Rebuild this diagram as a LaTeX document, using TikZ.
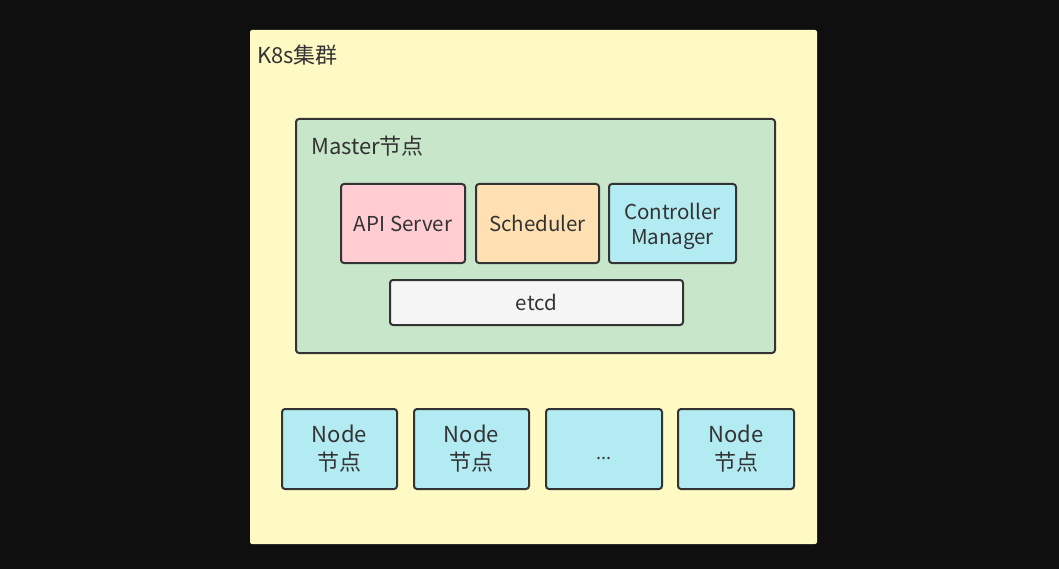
\documentclass[tikz,border=0pt]{standalone}
\usepackage{fontspec}
\setmainfont{Noto Sans CJK SC}
\definecolor{bgdark}{HTML}{0F0F0F}
\definecolor{clusterbg}{HTML}{FFF9C4}
\definecolor{masterbg}{HTML}{C8E6C9}
\definecolor{apibg}{HTML}{FFCDD2}
\definecolor{schedbg}{HTML}{FFE0B2}
\definecolor{cyanbg}{HTML}{B2EBF2}
\definecolor{etcdbg}{HTML}{F5F5F5}
\definecolor{edge}{HTML}{333333}
\definecolor{txt}{HTML}{333333}
\tikzset{
  box/.style={draw=edge, line width=2pt, rounded corners=3pt, text=txt, align=center, font=\fontsize{20.5}{24}\selectfont, inner sep=0pt},
  title/.style={text=txt, anchor=west, font=\fontsize{22}{26}\selectfont, inner sep=0pt},
  nodebox/.style={box, fill=cyanbg, minimum height=80pt, font=\fontsize{22}{28}\selectfont}
}
\begin{document}
\begin{tikzpicture}[x=1pt,y=-1pt]
\fill[bgdark] (0,0) rectangle (1059,569);
\useasboundingbox (0,0) rectangle (1059,569);
\fill[clusterbg, rounded corners=2pt] (250,30) rectangle (817,544);
\node[title] (k8s) at (257,55) {K8s集群};
\draw[draw=edge, line width=2pt, rounded corners=3pt, fill=masterbg] (296,119) rectangle (775,353);
\node[title] (master) at (311,146) {Master节点};
\node[box, fill=apibg, minimum width=124pt, minimum height=79pt] (api) at (403,223.5) {API Server};
\node[box, fill=schedbg, minimum width=123pt, minimum height=79pt] (sched) at (537.5,223.5) {Scheduler};
\draw[draw=edge, line width=2pt, rounded corners=3pt, fill=cyanbg] (609,184) rectangle (736,263);
\node[text=txt, align=center, inner sep=0pt, font=\fontsize{20.5}{25}\selectfont] (ctrl) at (672.5,226) {Controller\\Manager};
\node[box, fill=etcdbg, minimum width=293pt, minimum height=45pt] (etcd) at (536.5,302.5) {etcd};
\node[nodebox, minimum width=115pt] (n1) at (339.5,449) {Node\\节点};
\node[nodebox, minimum width=115pt] (n2) at (471.5,449) {Node\\节点};
\draw[draw=edge, line width=2pt, rounded corners=3pt, fill=cyanbg] (546,409) rectangle (662,489);
\node[text=txt, font=\fontsize{18}{20}\selectfont, inner sep=0pt] (n3) at (604,458) {...};
\node[nodebox, minimum width=116pt] (n4) at (736,449) {Node\\节点};
\end{tikzpicture}
\end{document}
